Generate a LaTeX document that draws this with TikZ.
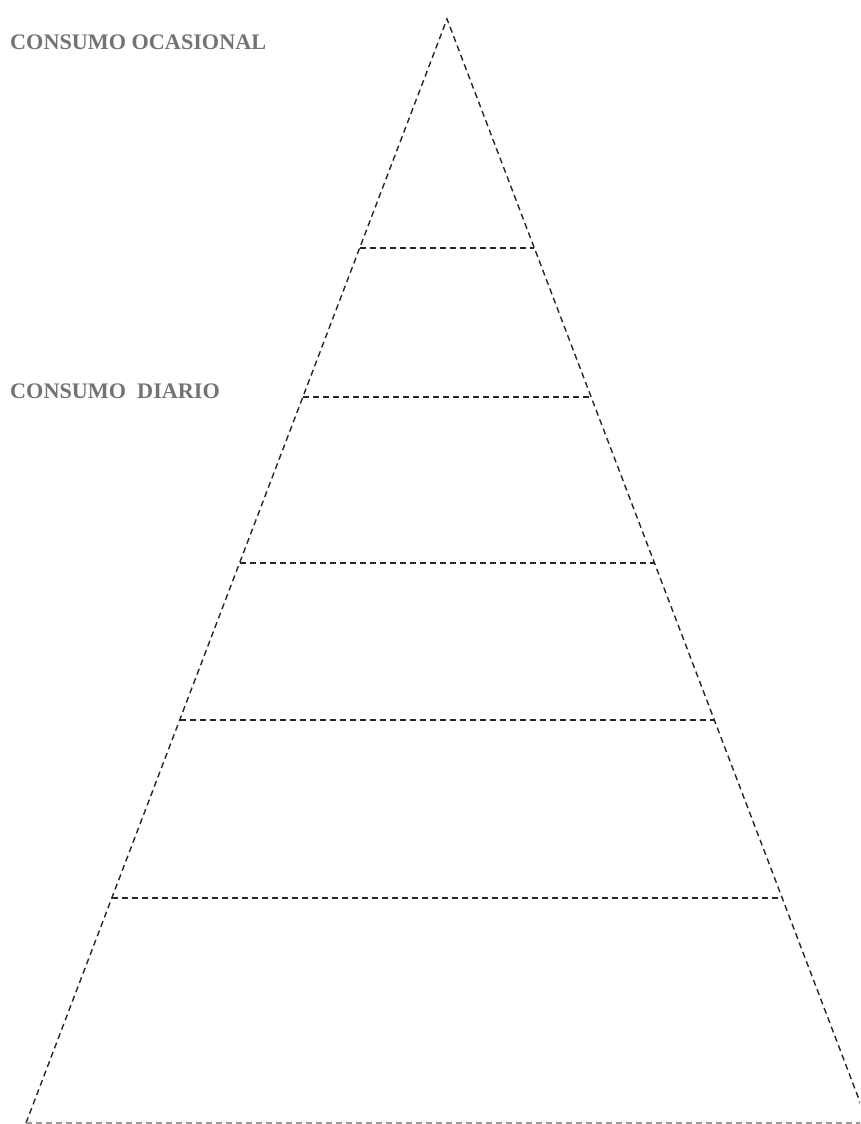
\documentclass[tikz,border=0pt]{standalone}
\usepackage{fontspec}
\setmainfont{Liberation Serif}
\begin{document}
\begin{tikzpicture}[x=1pt,y=-1pt,
  edge/.style={draw=black!85,line width=1.4pt,dash pattern=on 6pt off 4pt},
  baseedge/.style={draw=black!40,line width=1.4pt,dash pattern=on 6pt off 4pt},
  label/.style={font=\bfseries\fontsize{22.2}{25}\selectfont,text=black!55,anchor=base west,inner sep=0pt}]
\useasboundingbox (0,0) rectangle (860,1124);
\clip (0,0) rectangle (860,1124);
\coordinate (apex) at (447,19);
\coordinate (bl) at (26,1123);
\coordinate (br) at (868,1123);
\draw[edge] (bl) -- (apex) -- (br);
\draw[baseedge] (bl) -- (br);
\foreach \y/\n in {248/a,397/b,563/c,720/d,898/e}{
  \coordinate (l\n) at ({447-0.3813*(\y-19)},\y);
  \coordinate (r\n) at ({447+0.3813*(\y-19)},\y);
  \draw[edge] (l\n) -- (r\n);
}
\node[label] (ocas) at (10,50) {CONSUMO OCASIONAL};
\node[label] (diar) at (10,398) {CONSUMO\ \ DIARIO};
\end{tikzpicture}
\end{document}
